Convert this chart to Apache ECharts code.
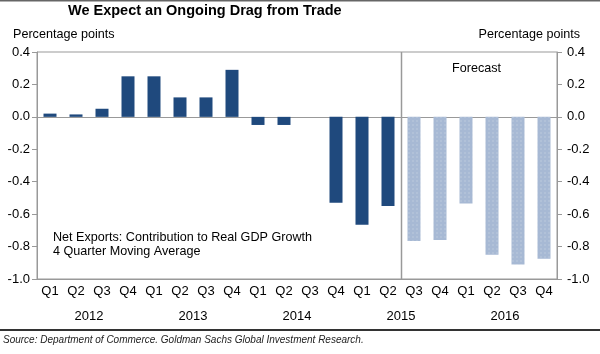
<!DOCTYPE html>
<html>
<head>
<meta charset="utf-8">
<script src="https://cdn.jsdelivr.net/npm/echarts@6/dist/echarts.min.js"></script>
<style>
  html, body { margin: 0; padding: 0; background: #fff; }
  #chart { width: 600px; height: 354px; }
</style>
</head>
<body>
<div id="chart"></div>
<script>
// quarters on the axis, years below them
const quarters = ['Q1','Q2','Q3','Q4','Q1','Q2','Q3','Q4','Q1','Q2','Q3','Q4','Q1','Q2','Q3','Q4','Q1','Q2','Q3','Q4'];
const years = ['2012', '2013', '2014', '2015', '2016'];
// net exports contribution, actual data (2012Q1 - 2015Q2)
const actual = [0.02, 0.015, 0.05, 0.25, 0.25, 0.12, 0.12, 0.29, -0.05, -0.05, '-', -0.53, -0.665, -0.55, '-', '-', '-', '-', '-', '-'];
// forecast (2015Q3 - 2016Q4)
const forecast = ['-', '-', '-', '-', '-', '-', '-', '-', '-', '-', '-', '-', '-', '-', -0.765, -0.76, -0.535, -0.85, -0.91, -0.875];
const yTicks = { min: -1.0, max: 0.4, step: 0.2 };
const firstForecast = 14; // index of 2015Q3

const font = "'Liberation Sans', Arial, sans-serif";
const grey = '#999';

const chart = echarts.init(document.getElementById('chart'));

const yAxisBase = {
  type: 'value',
  min: yTicks.min,
  max: yTicks.max,
  interval: yTicks.step,
  splitLine: { show: false },
  axisLine: { show: true, lineStyle: { color: grey } },
  axisTick: { show: true, length: 5, lineStyle: { color: grey } },
  axisLabel: {
    margin: 7,
    fontFamily: font,
    fontSize: 13,
    color: '#000',
    formatter: v => v.toFixed(1)
  }
};

const graphics = [
  { type: 'line', shape: { x1: 0, y1: 0.5, x2: 600, y2: 0.5 }, style: { stroke: '#666', lineWidth: 2 } },
  { type: 'text', left: 68, top: 3, style: { text: 'We Expect an Ongoing Drag from Trade', font: 'bold 14.5px ' + font, fill: '#000' } },
  { type: 'text', left: 13, top: 28, style: { text: 'Percentage points', font: '12.6px ' + font, fill: '#000' } },
  { type: 'text', right: 20, top: 28, style: { text: 'Percentage points', font: '12.6px ' + font, fill: '#000' } },
  { type: 'text', left: 452, top: 62, style: { text: 'Forecast', font: '12.6px ' + font, fill: '#000' } },
  { type: 'text', left: 53, top: 231, style: { text: 'Net Exports: Contribution to Real GDP Growth\n4 Quarter Moving Average', font: '12.6px ' + font, lineHeight: 14, fill: '#000' } },
  { type: 'line', shape: { x1: 0, y1: 330, x2: 600, y2: 330 }, style: { stroke: '#333', lineWidth: 2 } },
  { type: 'text', left: 3, top: 335, style: { text: 'Source: Department of Commerce. Goldman Sachs Global Investment Research.', font: 'italic 10px ' + font, fill: '#222' } }
];

chart.setOption({
  animation: false,
  textStyle: { fontFamily: font },
  grid: {
    left: 37, right: 43, top: 52, bottom: 75,
    show: true, borderColor: grey, borderWidth: 1
  },
  xAxis: [
    {
      // axis at zero with year ticks
      type: 'category',
      data: quarters,
      axisLine: { onZero: true, lineStyle: { color: grey } },
      axisTick: { length: 3, interval: i => i % 4 === 0, lineStyle: { color: grey } },
      axisLabel: { show: false }
    },
    {
      // quarter row
      type: 'category',
      data: quarters,
      position: 'bottom',
      axisLine: { onZero: false, lineStyle: { color: grey } },
      axisTick: { length: 23, interval: 0, lineStyle: { color: grey } },
      axisLabel: { margin: 6, fontSize: 13, color: '#000', interval: 0, fontFamily: font }
    },
    {
      // year row
      type: 'category',
      data: years,
      position: 'bottom',
      axisLine: { show: false, onZero: false },
      axisTick: { length: 46, interval: 0, lineStyle: { color: grey } },
      axisLabel: { margin: 31, fontSize: 13, color: '#000', interval: 0, fontFamily: font }
    }
  ],
  yAxis: [
    Object.assign({}, yAxisBase, { position: 'left' }),
    Object.assign({}, yAxisBase, { position: 'right', axisLabel: Object.assign({}, yAxisBase.axisLabel, { margin: 10 }) })
  ],
  series: [
    {
      type: 'bar',
      data: actual,
      barWidth: 13,
      barGap: '-100%',
      itemStyle: { color: '#1f497d' }
    },
    {
      type: 'bar',
      data: forecast,
      barWidth: 13,
      barGap: '-100%',
      itemStyle: {
        color: '#a7b9d4',
        decal: {
          symbol: 'rect',
          symbolSize: 0.5,
          color: 'rgba(255,255,255,0.45)',
          dashArrayX: 2,
          dashArrayY: 2
        }
      }
    }
  ],
  graphic: graphics
});

// forecast divider: halfway between last actual and first forecast quarter
const xa = chart.convertToPixel({ xAxisIndex: 0 }, firstForecast - 1);
const xb = chart.convertToPixel({ xAxisIndex: 0 }, firstForecast);
const xd = Math.round((xa + xb) / 2) + 0.5;
const yTop = chart.convertToPixel({ yAxisIndex: 0 }, yTicks.max);
const yBot = chart.convertToPixel({ yAxisIndex: 0 }, yTicks.min);
graphics.push({
  type: 'line', silent: true,
  shape: { x1: xd, y1: yTop, x2: xd, y2: yBot },
  style: { stroke: grey, lineWidth: 1.5 }
});
chart.setOption({ graphic: graphics });
</script>
</body>
</html>
